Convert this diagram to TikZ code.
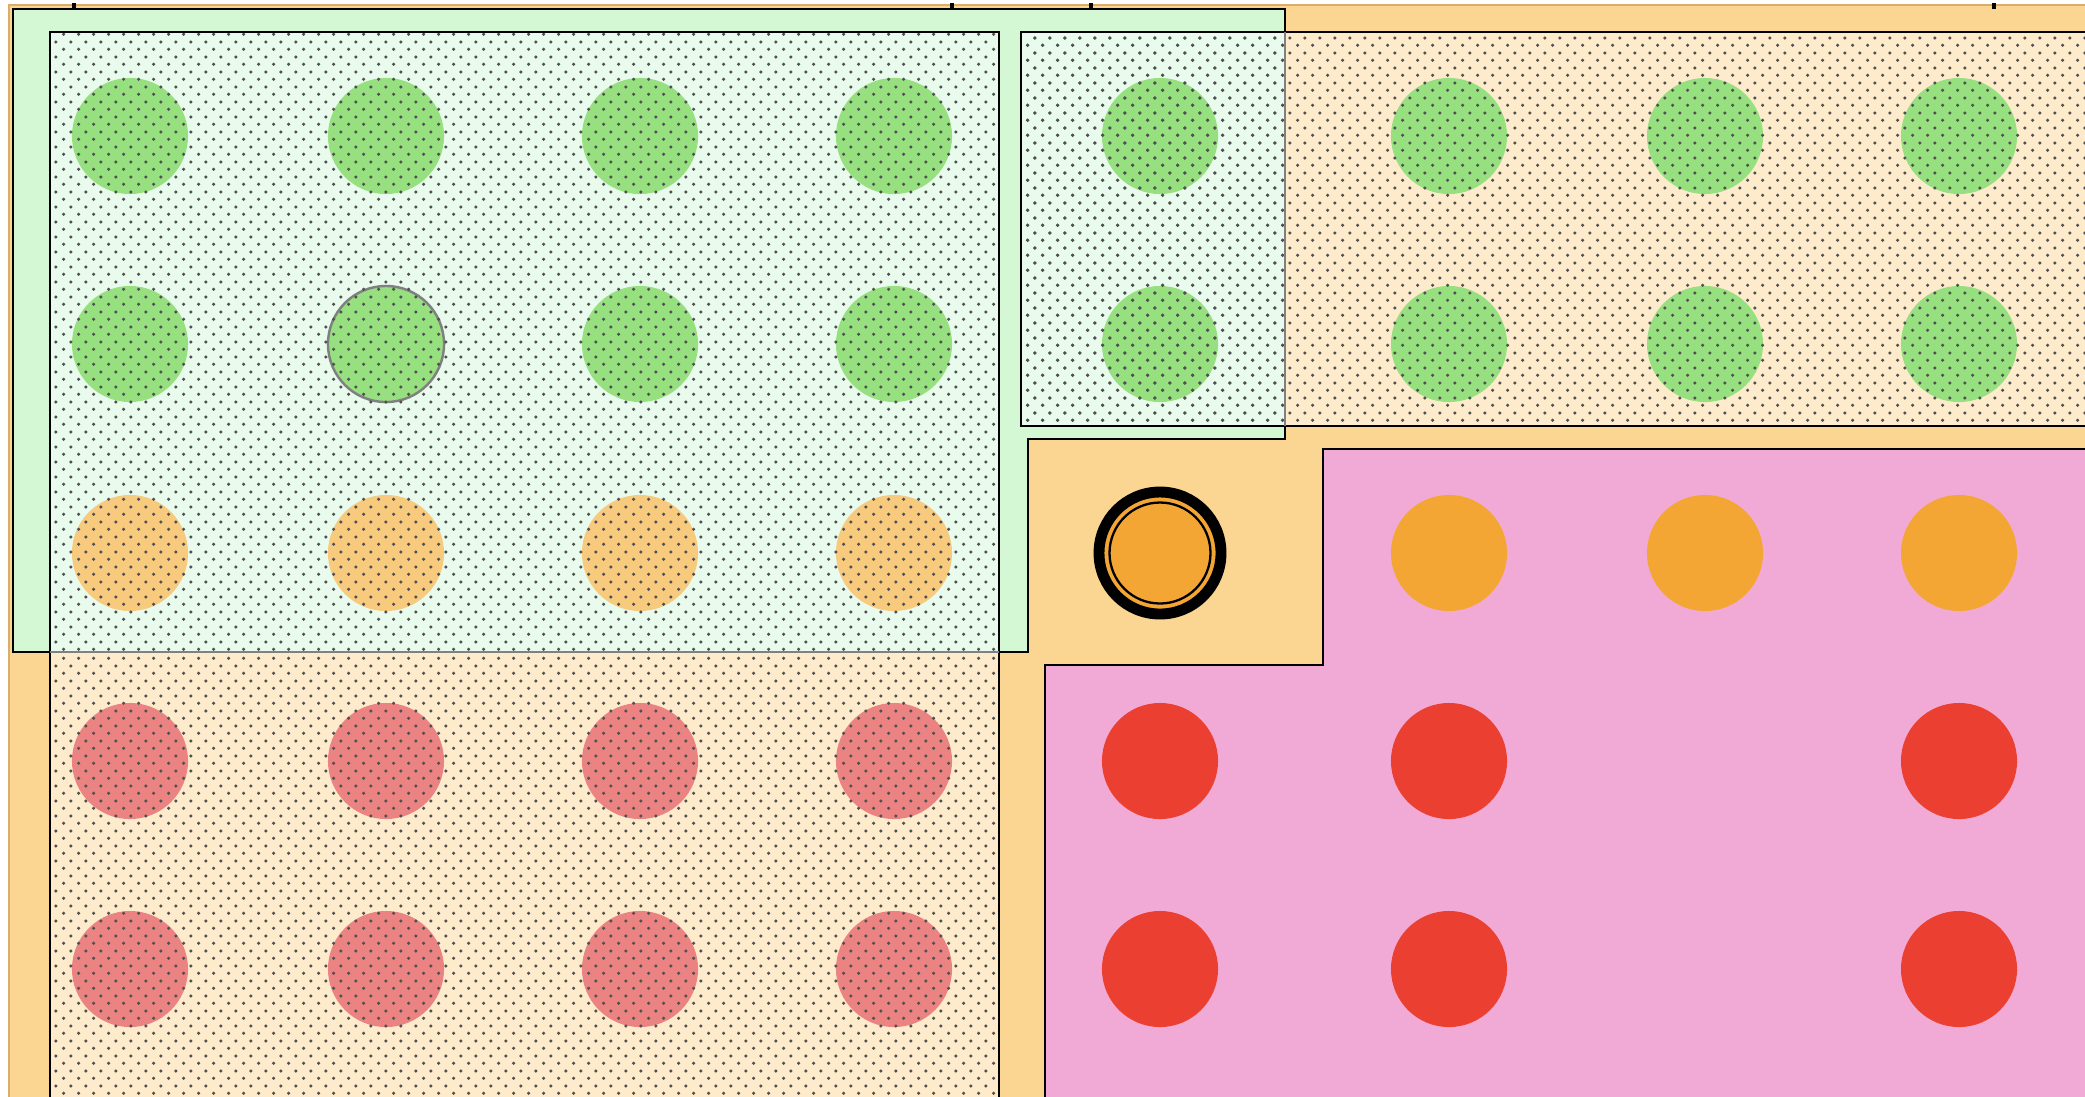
\documentclass[tikz,border=0pt]{standalone}
\usepackage{tikz}
\usetikzlibrary{patterns.meta}

\definecolor{sandbg}{HTML}{FBD592}
\definecolor{sandline}{HTML}{D9AE6A}
\definecolor{mintband}{HTML}{D3F8D3}
\definecolor{mintdot}{HTML}{E8FBEC}
\definecolor{peachdot}{HTML}{FDEBCC}
\definecolor{pinkreg}{HTML}{F1AAD5}
\definecolor{leafgreen}{HTML}{97E080}
\definecolor{paleorange}{HTML}{F8CA7E}
\definecolor{fullorange}{HTML}{F3A633}
\definecolor{salmon}{HTML}{EC8383}
\definecolor{fullred}{HTML}{EA3F31}
\definecolor{dotgray}{HTML}{505050}

\tikzdeclarepattern{
  name=dotgrid,
  type=uncolored,
  bounding box={(0pt,0pt) and (4.35pt,4.35pt)},
  tile size={(4.35pt,4.35pt)},
  code={
    \fill (1.0875pt,1.0875pt) circle [radius=0.52pt];
    \fill (3.2625pt,3.2625pt) circle [radius=0.52pt];
  }
}

\tikzset{
  region/.style={draw=black, line width=0.75pt},
  dotbox/.style={draw=black, line width=0.75pt, pattern=dotgrid, pattern color=dotgray},
  spot/.style={circle, minimum size=1.16cm, inner sep=0pt},
  tick/.style={line width=0.9pt}
}

\begin{document}
\begin{tikzpicture}[x=0.01cm, y=-0.01cm]
\useasboundingbox (0,0) rectangle (2085,1096);
% background and the top ticks
\fill[sandbg, draw=sandline, line width=0.6pt] (9,5) rectangle (2090,1100);
\coordinate (t1a) at (74,3); \coordinate (t1b) at (74,9);
\coordinate (t2a) at (952,3); \coordinate (t2b) at (952,9);
\coordinate (t3a) at (1091,3); \coordinate (t3b) at (1091,9);
\coordinate (t4a) at (1994,3); \coordinate (t4b) at (1994,9);
\draw[tick] (t1a) -- (t1b);
\draw[tick] (t2a) -- (t2b);
\draw[tick] (t3a) -- (t3b);
\draw[tick] (t4a) -- (t4b);
% green and pink regions
\draw[region, fill=mintband] (13,9) -- (1285,9) -- (1285,439) -- (1028,439) -- (1028,652) -- (13,652) -- cycle;
\draw[region, fill=pinkreg] (1045,1100) -- (1045,665) -- (1323,665) -- (1323,449) -- (2090,449) -- (2090,1100);
% dotted boxes, plain fill first
\fill[mintdot] (50,32) rectangle (999,652);
\fill[peachdot] (50,652) rectangle (999,1100);
\fill[peachdot] (1021,32) rectangle (2090,426);
\fill[mintdot] (1021,32) rectangle (1285,426);

% row 1
\node[spot, fill=leafgreen] (r1c1) at (130,136) {};
\node[spot, fill=leafgreen] (r1c2) at (386,136) {};
\node[spot, fill=leafgreen] (r1c3) at (640,136) {};
\node[spot, fill=leafgreen] (r1c4) at (894,136) {};
\node[spot, fill=leafgreen] (r1c5) at (1160,136) {};
\node[spot, fill=leafgreen] (r1c6) at (1449,136) {};
\node[spot, fill=leafgreen] (r1c7) at (1705,136) {};
\node[spot, fill=leafgreen] (r1c8) at (1959,136) {};
% row 2
\node[spot, fill=leafgreen] (r2c1) at (130,344) {};
\node[spot, fill=leafgreen, draw=gray, line width=0.7pt] (r2c2) at (386,344) {};
\node[spot, fill=leafgreen] (r2c3) at (640,344) {};
\node[spot, fill=leafgreen] (r2c4) at (894,344) {};
\node[spot, fill=leafgreen] (r2c5) at (1160,344) {};
\node[spot, fill=leafgreen] (r2c6) at (1449,344) {};
\node[spot, fill=leafgreen] (r2c7) at (1705,344) {};
\node[spot, fill=leafgreen] (r2c8) at (1959,344) {};
% row 3
\node[spot, fill=paleorange] (r3c1) at (130,553) {};
\node[spot, fill=paleorange] (r3c2) at (386,553) {};
\node[spot, fill=paleorange] (r3c3) at (640,553) {};
\node[spot, fill=paleorange] (r3c4) at (894,553) {};
\node[spot, fill=fullorange, minimum size=1.32cm] (r3c5) at (1160,553) {};
\draw[black, line width=3.1pt] (r3c5.center) circle (61);
\draw[black, line width=0.65pt] (r3c5.center) circle (50.5);
\node[spot, fill=fullorange] (r3c6) at (1449,553) {};
\node[spot, fill=fullorange] (r3c7) at (1705,553) {};
\node[spot, fill=fullorange] (r3c8) at (1959,553) {};
% row 4
\node[spot, fill=salmon] (r4c1) at (130,761) {};
\node[spot, fill=salmon] (r4c2) at (386,761) {};
\node[spot, fill=salmon] (r4c3) at (640,761) {};
\node[spot, fill=salmon] (r4c4) at (894,761) {};
\node[spot, fill=fullred] (r4c5) at (1160,761) {};
\node[spot, fill=fullred] (r4c6) at (1449,761) {};
\node[spot, fill=fullred] (r4c8) at (1959,761) {};
% row 5
\node[spot, fill=salmon] (r5c1) at (130,969) {};
\node[spot, fill=salmon] (r5c2) at (386,969) {};
\node[spot, fill=salmon] (r5c3) at (640,969) {};
\node[spot, fill=salmon] (r5c4) at (894,969) {};
\node[spot, fill=fullred] (r5c5) at (1160,969) {};
\node[spot, fill=fullred] (r5c6) at (1449,969) {};
\node[spot, fill=fullred] (r5c8) at (1959,969) {};

% dots over the boxes, then the shared edges in gray
\draw[dotbox] (50,32) rectangle (999,652);
\draw[dotbox] (50,652) rectangle (999,1100);
\draw[dotbox] (1021,32) rectangle (2090,426);
\draw[dotbox] (1021,32) rectangle (1285,426);
\draw[gray, line width=0.7pt] (50,652) -- (999,652);
\draw[gray, line width=0.7pt] (1285,32) -- (1285,426);
\end{tikzpicture}
\end{document}
